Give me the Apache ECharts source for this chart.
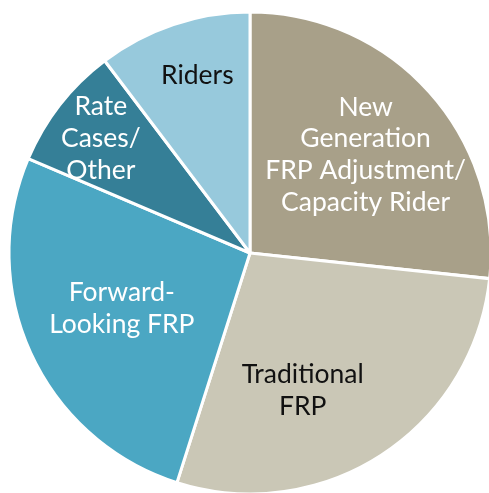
<!DOCTYPE html>
<html>
<head>
<meta charset="utf-8">
<script src="https://cdn.jsdelivr.net/npm/echarts@6/dist/echarts.min.js"></script>
<style>
html, body { margin: 0; padding: 0; background: #fff; }
#main { width: 489px; height: 493px; }
</style>
</head>
<body>
<div id="main"></div>
<script>
// slices, clockwise from 12 o'clock
var categories = ['New\nGeneration\nFRP Adjustment/\nCapacity Rider', 'Traditional\nFRP', 'Forward-\nLooking FRP', 'Rate\nCases/\nOther', 'Riders'];
var values = [26.7, 28.2, 26.5, 8.3, 10.3];
var colors = ['#a8a089', '#cac7b6', '#4ba7c3', '#357f97', '#97c9dc'];
var textColors = ['#ffffff', '#111111', '#ffffff', '#ffffff', '#111111'];
// label placement: angle (deg, clockwise from top) and fraction of radius
var labelAngle = [49.6, 159, 246.5, 307.5, 343.5];
var labelRadius = [0.63, 0.61, 0.58, 0.78, 0.77];

var cx = 250, cy = 253, R = 241;

var myChart = echarts.init(document.getElementById('main'));
myChart.setOption({
  animation: false,
  series: [{
    type: 'pie',
    center: [cx, cy],
    radius: R,
    startAngle: 90,
    clockwise: true,
    itemStyle: { borderColor: '#fff', borderWidth: 3 },
    label: {
      position: 'inside',
      fontFamily: 'Lato',
      fontSize: 26.5,
      lineHeight: 31.7,
      align: 'center'
    },
    labelLine: { show: false },
    emphasis: { disabled: true },
    labelLayout: function (params) {
      var i = params.dataIndex;
      var a = labelAngle[i] * Math.PI / 180;
      var r = labelRadius[i] * R;
      return { x: cx + r * Math.sin(a), y: cy - r * Math.cos(a) };
    },
    data: categories.map(function (name, i) {
      return {
        name: name,
        value: values[i],
        itemStyle: { color: colors[i] },
        label: { formatter: name, color: textColors[i] }
      };
    })
  }]
});
</script>
</body>
</html>
